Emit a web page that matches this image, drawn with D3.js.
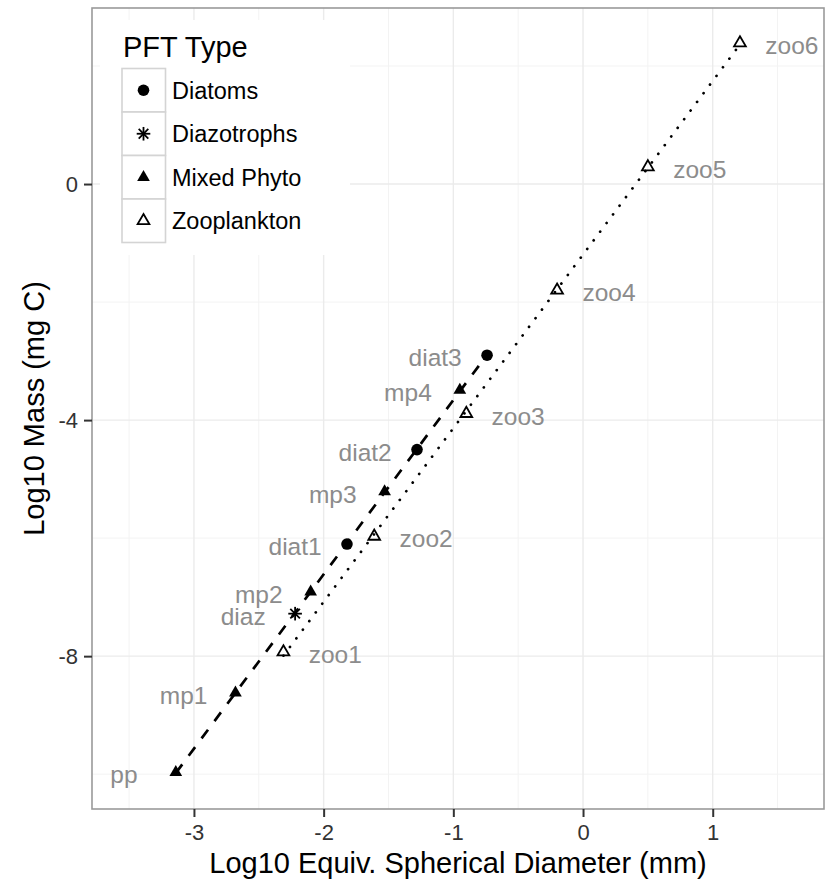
<!DOCTYPE html>
<html>
<head>
<meta charset="utf-8">
<script src="https://cdn.jsdelivr.net/npm/d3@7"></script>
<style>
  body { margin: 0; background: #fff; }
  text { font-family: "Liberation Sans", Arial, Helvetica, sans-serif; }
</style>
</head>
<body>
<svg width="832" height="879"></svg>
<script>
// data
var names   = ["pp", "mp1", "mp2", "mp3", "mp4", "diaz", "diat1", "diat2", "diat3",
               "zoo1", "zoo2", "zoo3", "zoo4", "zoo5", "zoo6"];
var types   = ["Mixed Phyto", "Mixed Phyto", "Mixed Phyto", "Mixed Phyto", "Mixed Phyto",
               "Diazotrophs", "Diatoms", "Diatoms", "Diatoms",
               "Zooplankton", "Zooplankton", "Zooplankton", "Zooplankton", "Zooplankton", "Zooplankton"];
var logEsd  = [-3.14, -2.68, -2.10, -1.53, -0.95, -2.22, -1.82, -1.28, -0.74,
               -2.31, -1.61, -0.90, -0.20, 0.50, 1.21];
var logMass = [-9.97, -8.62, -6.91, -5.21, -3.49, -7.28, -6.10, -4.50, -2.90,
               -7.93, -5.97, -3.89, -1.80, 0.29, 2.39];
var legendTypes = ["Diatoms", "Diazotrophs", "Mixed Phyto", "Zooplankton"];
var xTicks = [-3, -2, -1, 0, 1];
var yTicks = [-8, -4, 0];

var data = names.map(function(n, i) {
  return {name: n, type: types[i], x: logEsd[i], y: logMass[i],
          zoo: types[i] == "Zooplankton"};
});

var svg = d3.select("svg");
var pLeft = 92, pRight = 824, pTop = 8, pBottom = 809;

var x = d3.scaleLinear().domain([-3.786, 1.858]).range([pLeft, pRight]);
var y = d3.scaleLinear().domain([-10.59, 2.983]).range([pBottom, pTop]);

// grid
var g = svg.append("g");
var xMinor = xTicks.map(function(t) { return t - 0.5; }).concat([1.5]);
var yMinor = yTicks.map(function(t) { return t - 2; }).concat([2]);

g.selectAll(".xminor").data(xMinor).enter().append("line")
  .attr("x1", x).attr("x2", x).attr("y1", pTop).attr("y2", pBottom)
  .attr("stroke", "#f3f3f3").attr("stroke-width", 1);
g.selectAll(".yminor").data(yMinor).enter().append("line")
  .attr("y1", y).attr("y2", y).attr("x1", pLeft).attr("x2", pRight)
  .attr("stroke", "#f3f3f3").attr("stroke-width", 1);
g.selectAll(".xmajor").data(xTicks).enter().append("line")
  .attr("x1", x).attr("x2", x).attr("y1", pTop).attr("y2", pBottom)
  .attr("stroke", "#ebebeb").attr("stroke-width", 1.4);
g.selectAll(".ymajor").data(yTicks).enter().append("line")
  .attr("y1", y).attr("y2", y).attr("x1", pLeft).attr("x2", pRight)
  .attr("stroke", "#ebebeb").attr("stroke-width", 1.4);

// fitted lines for each group
function fit(pts) {
  var mx = d3.mean(pts, function(d) { return d.x; });
  var my = d3.mean(pts, function(d) { return d.y; });
  var sxy = d3.sum(pts, function(d) { return (d.x - mx) * (d.y - my); });
  var sxx = d3.sum(pts, function(d) { return (d.x - mx) * (d.x - mx); });
  var b = sxy / sxx, a = my - b * mx;
  var ext = d3.extent(pts, function(d) { return d.x; });
  return ext.map(function(v) { return [v, a + b * v]; });
}
var line = d3.line().x(function(d) { return x(d[0]); }).y(function(d) { return y(d[1]); });

var phyto = data.filter(function(d) { return !d.zoo; });
var zoo = data.filter(function(d) { return d.zoo; });

g.append("path").attr("d", line(fit(phyto)))
  .attr("fill", "none").attr("stroke", "#000").attr("stroke-width", 2.7)
  .attr("stroke-dasharray", "10.8,10.8");
g.append("path").attr("d", line(fit(zoo)))
  .attr("fill", "none").attr("stroke", "#000").attr("stroke-width", 2.7)
  .attr("stroke-linecap", "round")
  .attr("stroke-dasharray", "0.1,10.7");

// point shapes
function drawShape(sel, type) {
  if (type == "Diatoms") {
    sel.append("circle").attr("r", 5.8).attr("fill", "#000");
  } else if (type == "Mixed Phyto") {
    sel.append("path").attr("d", d3.symbol(d3.symbolTriangle, 70)()).attr("fill", "#000");
  } else if (type == "Zooplankton") {
    sel.append("path").attr("d", d3.symbol(d3.symbolTriangle, 60)())
      .attr("fill", "none").attr("stroke", "#000").attr("stroke-width", 1.8);
  } else {
    [0, 45, 90, 135].forEach(function(a) {
      sel.append("line").attr("x1", -6.8).attr("x2", 6.8)
        .attr("transform", "rotate(" + a + ")")
        .attr("stroke", "#000").attr("stroke-width", 1.8);
    });
  }
}

g.selectAll(".pt").data(data).enter().append("g")
  .attr("transform", function(d) { return "translate(" + x(d.x) + "," + y(d.y) + ")"; })
  .each(function(d) { drawShape(d3.select(this), d.type); });

g.selectAll(".lab").data(data).enter().append("text")
  .attr("x", function(d) { return x(d.x + (d.zoo ? 0.4 : -0.4)); })
  .attr("y", function(d) { return y(d.y) + 11; })
  .attr("text-anchor", "middle")
  .attr("font-size", 24.5)
  .attr("fill", "#8c8c8c")
  .text(function(d) { return d.name; });

// panel border
svg.append("rect").attr("x", pLeft).attr("y", pTop)
  .attr("width", pRight - pLeft).attr("height", pBottom - pTop)
  .attr("fill", "none").attr("stroke", "#9a9a9a").attr("stroke-width", 1.6);

// axes
var fmt = function(d) { return String(d); };
var xAxis = svg.append("g").attr("transform", "translate(0," + pBottom + ")")
  .call(d3.axisBottom(x).tickValues(xTicks).tickFormat(fmt).tickSize(8).tickPadding(7));
var yAxis = svg.append("g").attr("transform", "translate(" + pLeft + ",0)")
  .call(d3.axisLeft(y).tickValues(yTicks).tickFormat(fmt).tickSize(8).tickPadding(6));
[xAxis, yAxis].forEach(function(ax) {
  ax.select(".domain").remove();
  ax.selectAll(".tick line").attr("stroke", "#333").attr("stroke-width", 2);
  ax.selectAll(".tick text").attr("fill", "#333").attr("font-size", 22)
    .attr("font-family", "Liberation Sans, Arial, sans-serif");
});

svg.append("text").attr("x", (pLeft + pRight) / 2).attr("y", 873)
  .attr("text-anchor", "middle").attr("font-size", 29).attr("fill", "#000")
  .text("Log10 Equiv. Spherical Diameter (mm)");
svg.append("text")
  .attr("transform", "translate(44," + (pTop + pBottom) / 2 + ") rotate(-90)")
  .attr("text-anchor", "middle").attr("font-size", 29).attr("fill", "#000")
  .text("Log10 Mass (mg C)");

// legend
var legend = svg.append("g");
legend.append("rect").attr("x", 100).attr("y", 20).attr("width", 250).attr("height", 235)
  .attr("fill", "#fff");
legend.append("text").attr("x", 123).attr("y", 57).attr("font-size", 29).attr("fill", "#000")
  .text("PFT Type");
var rows = legend.selectAll(".row").data(legendTypes).enter().append("g")
  .attr("transform", function(d, i) { return "translate(122," + (68.5 + i * 43.5) + ")"; });
rows.append("rect").attr("width", 43.5).attr("height", 43.5)
  .attr("fill", "#fff").attr("stroke", "#d4d4d4").attr("stroke-width", 1.6);
rows.append("g").attr("transform", "translate(21.5,21.75)")
  .each(function(d) { drawShape(d3.select(this), d); });
rows.append("text").attr("x", 50).attr("y", 30).attr("font-size", 23.5).attr("fill", "#000")
  .text(function(d) { return d; });
</script>
</body>
</html>
